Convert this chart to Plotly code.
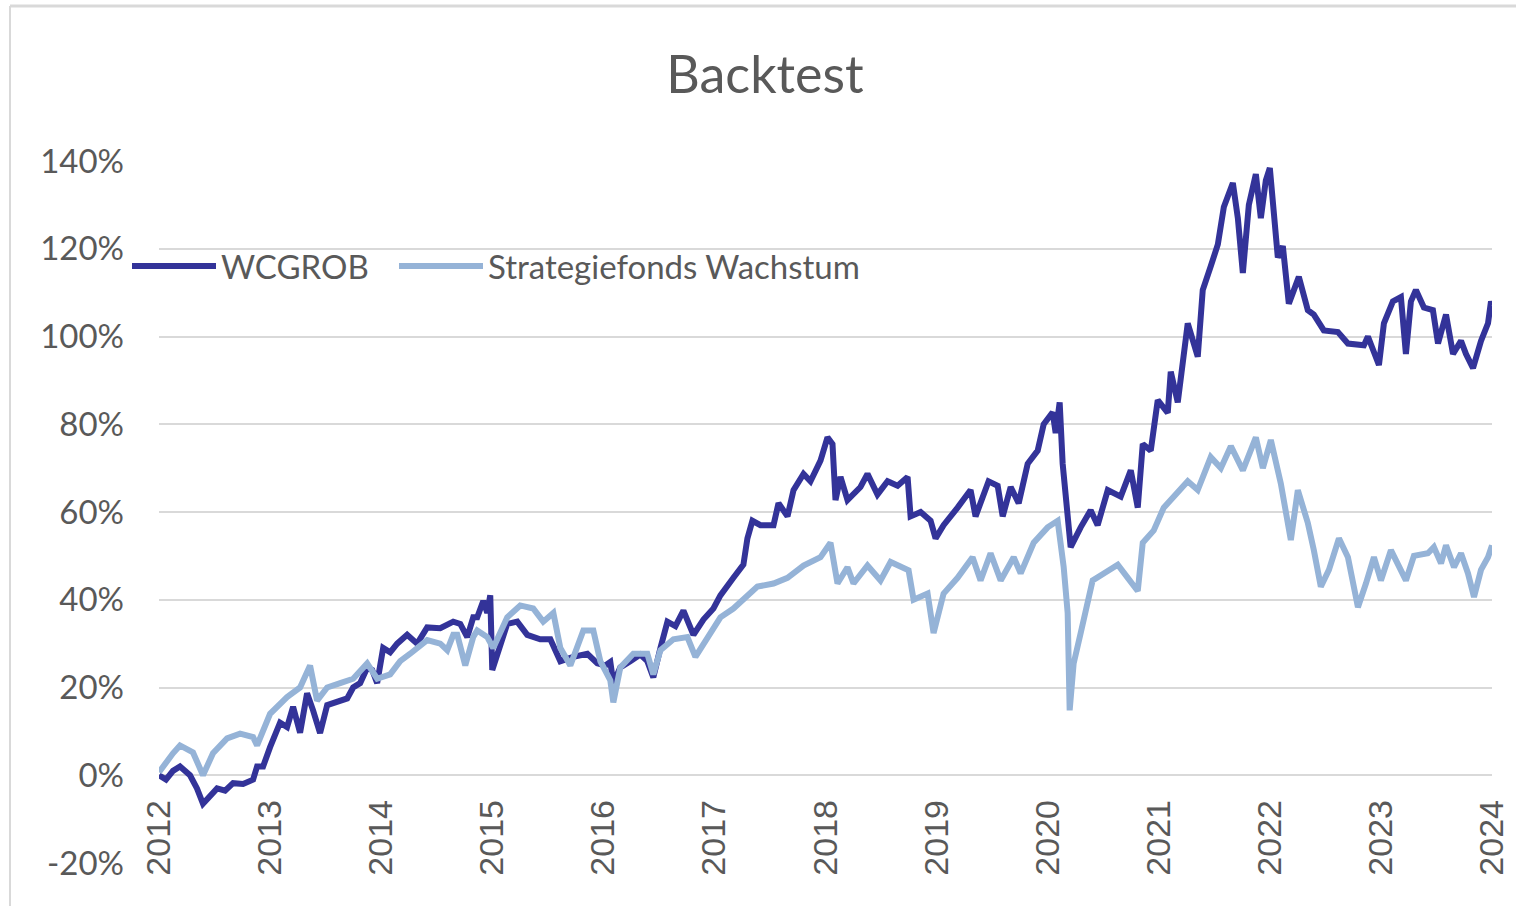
import plotly.graph_objects as go

# ---- data ----
wcgrob_x = [2012.000, 2012.063, 2012.126, 2012.189, 2012.279, 2012.342, 2012.396, 2012.459, 2012.523, 2012.595,
            2012.667, 2012.757, 2012.847, 2012.883, 2012.937, 2013.000, 2013.090, 2013.153, 2013.207, 2013.270,
            2013.333, 2013.387, 2013.450, 2013.514, 2013.568, 2013.631, 2013.694, 2013.748, 2013.811, 2013.874,
            2013.919, 2013.964, 2014.018, 2014.081, 2014.144, 2014.234, 2014.324, 2014.414, 2014.532, 2014.649,
            2014.712, 2014.775, 2014.829, 2014.865, 2014.919, 2014.955, 2014.982, 2015.000, 2015.045, 2015.135,
            2015.225, 2015.315, 2015.432, 2015.523, 2015.613, 2015.730, 2015.856, 2015.946, 2016.018, 2016.063,
            2016.090, 2016.153, 2016.243, 2016.333, 2016.396, 2016.450, 2016.514, 2016.577, 2016.649, 2016.721,
            2016.811, 2016.901, 2016.991, 2017.054, 2017.171, 2017.261, 2017.297, 2017.342, 2017.414, 2017.532,
            2017.577, 2017.658, 2017.712, 2017.802, 2017.865, 2017.955, 2018.018, 2018.063, 2018.090, 2018.135,
            2018.198, 2018.315, 2018.378, 2018.468, 2018.559, 2018.649, 2018.739, 2018.766, 2018.856, 2018.946,
            2018.991, 2019.063, 2019.189, 2019.306, 2019.351, 2019.468, 2019.550, 2019.595, 2019.667, 2019.739,
            2019.820, 2019.910, 2019.964, 2020.045, 2020.072, 2020.108, 2020.135, 2020.180, 2020.207, 2020.297,
            2020.387, 2020.450, 2020.541, 2020.658, 2020.748, 2020.811, 2020.856, 2020.928, 2020.991, 2021.081,
            2021.108, 2021.171, 2021.261, 2021.351, 2021.396, 2021.468, 2021.532, 2021.586, 2021.667, 2021.712,
            2021.757, 2021.811, 2021.874, 2021.919, 2021.964, 2022.000, 2022.036, 2022.072, 2022.117, 2022.171,
            2022.261, 2022.342, 2022.396, 2022.486, 2022.613, 2022.703, 2022.847, 2022.883, 2022.982, 2023.027,
            2023.108, 2023.180, 2023.225, 2023.270, 2023.315, 2023.387, 2023.468, 2023.514, 2023.586, 2023.649,
            2023.721, 2023.766, 2023.829, 2023.901, 2023.964, 2023.991, 2024.000]
wcgrob_y = [0, -1, 1, 2, 0, -3, -6.5, -4.5, -3, -3.5,
            -1.8, -2, -1, 2, 2, 6.4, 12, 11, 15.6, 9.7,
            18.7, 14.8, 9.6, 16, 16.5, 17, 17.5, 20, 21, 24.5,
            24, 21, 29, 28, 30, 32, 30, 33.7, 33.5, 35,
            34.5, 31.5, 36, 36, 39.7, 37, 41, 24, 27.7, 34.5,
            35, 32, 31, 31, 26, 27, 27.7, 25.5, 25, 25.8,
            21, 24.6, 26, 27.5, 26, 22.3, 29, 35, 34, 37.5,
            32, 35.5, 38, 41, 45, 48, 54, 58, 57, 57,
            62, 59, 65, 68.7, 67, 71.7, 77, 75.5, 62.7, 68,
            62.7, 65.7, 68.7, 64, 67, 66, 68, 59, 60, 58,
            54, 57, 61, 65, 59, 67, 66, 59, 65.7, 62,
            71, 74, 80, 82.7, 78, 85, 71, 60, 52, 56.5,
            60.4, 57, 65, 63.5, 69.5, 61, 75.5, 74, 85.5, 82.6,
            92, 85, 103, 95.4, 110.6, 116, 121, 129.5, 135, 127,
            114.5, 130, 137, 127, 135.6, 138.4, 128.8, 118, 120.6, 107.5,
            113.6, 106, 105, 101.4, 101, 98.4, 98, 100, 93.5, 103,
            108, 109, 96, 108, 110.6, 106.6, 106, 98.4, 105, 96,
            99, 96, 92.8, 99, 103, 108, 107]

strat_x = [2012.000, 2012.063, 2012.126, 2012.189, 2012.306, 2012.396, 2012.486, 2012.613, 2012.730, 2012.847,
           2012.883, 2013.000, 2013.153, 2013.270, 2013.360, 2013.423, 2013.514, 2013.631, 2013.748, 2013.874,
           2013.964, 2014.081, 2014.171, 2014.261, 2014.414, 2014.532, 2014.595, 2014.649, 2014.685, 2014.757,
           2014.829, 2014.865, 2014.955, 2015.009, 2015.135, 2015.252, 2015.369, 2015.459, 2015.550, 2015.613,
           2015.703, 2015.820, 2015.910, 2015.973, 2016.063, 2016.090, 2016.153, 2016.270, 2016.396, 2016.450,
           2016.514, 2016.631, 2016.757, 2016.829, 2016.937, 2017.054, 2017.171, 2017.297, 2017.387, 2017.532,
           2017.658, 2017.802, 2017.955, 2018.045, 2018.108, 2018.198, 2018.252, 2018.378, 2018.495, 2018.586,
           2018.703, 2018.748, 2018.793, 2018.919, 2018.973, 2019.063, 2019.189, 2019.324, 2019.396, 2019.486,
           2019.577, 2019.694, 2019.757, 2019.874, 2020.000, 2020.090, 2020.144, 2020.180, 2020.198, 2020.234,
           2020.297, 2020.405, 2020.505, 2020.631, 2020.721, 2020.811, 2020.856, 2020.955, 2021.045, 2021.135,
           2021.261, 2021.351, 2021.468, 2021.559, 2021.649, 2021.757, 2021.874, 2021.937, 2022.009, 2022.099,
           2022.189, 2022.252, 2022.342, 2022.396, 2022.459, 2022.532, 2022.622, 2022.703, 2022.793, 2022.865,
           2022.937, 2023.000, 2023.090, 2023.225, 2023.297, 2023.423, 2023.477, 2023.541, 2023.586, 2023.658,
           2023.721, 2023.784, 2023.838, 2023.901, 2023.964, 2024.000]
strat_y = [0.7, 3, 5, 6.8, 5.2, 0, 5, 8.4, 9.5, 8.7,
           6.8, 14, 17.8, 20, 25, 17, 20, 21, 22, 25.5,
           22, 23, 26, 27.7, 30.8, 30, 28.5, 32, 32, 25,
           31.5, 33, 31.5, 29, 36, 38.7, 38, 35, 37, 29,
           25, 33, 33, 26, 21.6, 16.6, 24.6, 27.7, 27.7, 23,
           28.5, 31, 31.5, 27, 31.5, 36, 38, 41, 43, 43.7,
           45, 47.8, 49.7, 53, 43.7, 47.4, 43.7, 47.8, 44.4, 48.6,
           47, 46.7, 40, 41.4, 32.4, 41.4, 45, 49.7, 44.4, 50.6,
           44.4, 49.7, 46, 53, 56.5, 58, 47.5, 37, 14.8, 25.5,
           32.4, 44.4, 46, 48, 45, 42, 53, 55.8, 61, 63.4,
           67, 65, 72.5, 70, 75, 69.5, 77, 70, 76.4, 66.5,
           53.6, 65, 57.5, 51.3, 43, 46.8, 54, 49.7, 38.3, 43.7,
           49.7, 44.4, 51.3, 44.4, 50, 50.6, 52, 48.3, 52.4, 47.4,
           50.6, 46, 40.6, 46.8, 49.7, 52.4]

series_names = ["WCGROB", "Strategiefonds Wachstum"]
year_ticks = list(range(2012, 2025))
year_labels = [str(y) for y in year_ticks]
pct_ticks = [-20, 0, 20, 40, 60, 80, 100, 120, 140]
pct_labels = ["-20%", "0%", "20%", "40%", "60%", "80%", "100%", "120%", "140%"]

DARK = "#333399"
LIGHT = "#95B3D7"
TXT = "#595959"
GRID = "#D9D9D9"

fig = go.Figure()
fig.add_trace(go.Scatter(x=wcgrob_x, y=wcgrob_y, mode="lines", name=series_names[0],
                         line=dict(color=DARK, width=6), legend="legend"))
fig.add_trace(go.Scatter(x=strat_x, y=strat_y, mode="lines", name=series_names[1],
                         line=dict(color=LIGHT, width=6), legend="legend2"))

W, H = 1516, 906
L, R, T, B = 159, 24, 161, 43
plot_w = W - L - R
plot_h = H - T - B
zero_pos = 20 / 160.0
leg_y = (H - B - 266) / plot_h
leg_common = dict(orientation="h", xanchor="left", y=leg_y, yanchor="middle",
                  font=dict(family="Lato", size=33, color=TXT), bgcolor="rgba(0,0,0,0)",
                  itemwidth=84)

fig.update_layout(
    width=W, height=H,
    margin=dict(l=L, r=R, t=T, b=B, autoexpand=False),
    paper_bgcolor="white", plot_bgcolor="white",
    title=dict(text="Backtest", x=765 / W, xref="container", xanchor="center",
               y=1 - 75 / H, yref="container", yanchor="middle",
               font=dict(family="Lato", size=52, color=TXT)),
    showlegend=True,
    legend=dict(x=(133 - L - 6) / plot_w, **leg_common),
    legend2=dict(x=(400 - L - 6) / plot_w, **leg_common),
    xaxis=dict(range=[2012, 2024], tickmode="array", tickvals=year_ticks, ticktext=year_labels,
               tickangle=-90, showgrid=False, showline=False, zeroline=False, ticks="",
               anchor="free", position=zero_pos, ticklabelstandoff=17, automargin=False,
               tickfont=dict(family="Liberation Sans", size=34, color=TXT)),
    yaxis=dict(range=[-20, 140], tickmode="array", tickvals=pct_ticks, ticktext=pct_labels,
               showgrid=True, gridcolor=GRID, gridwidth=2, zeroline=False, showline=False, ticks="",
               ticklabelstandoff=34, automargin=False,
               tickfont=dict(family="Lato", size=33, color=TXT)),
    shapes=[
        dict(type="line", xref="paper", yref="paper", x0=(10 - L) / plot_w, x1=1.5,
             y0=(H - B - 6) / plot_h, y1=(H - B - 6) / plot_h, line=dict(color=GRID, width=3)),
        dict(type="line", xref="paper", yref="paper", x0=(10 - L) / plot_w, x1=(10 - L) / plot_w,
             y0=-0.5, y1=(H - B - 6) / plot_h, line=dict(color=GRID, width=2)),
    ],
)

fig.write_html("out.html", config={"displayModeBar": False},
               post_script="document.body.style.margin='0';document.body.style.overflow='hidden';")
